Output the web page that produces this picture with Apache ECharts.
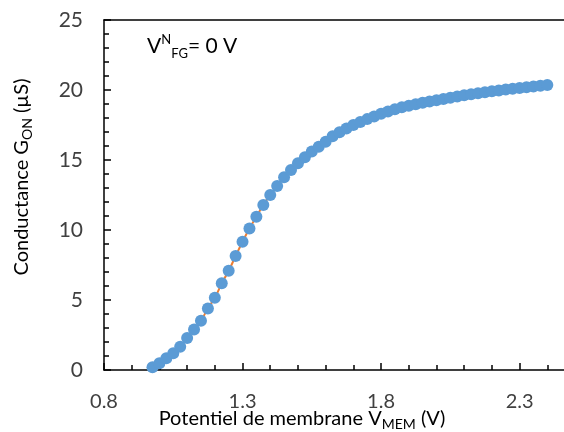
<!DOCTYPE html>
<html>
<head>
<meta charset="utf-8">
<script src="https://cdn.jsdelivr.net/npm/echarts@6/dist/echarts.min.js"></script>
<style>
html,body{margin:0;padding:0;background:#fff;}
#chart{width:564px;height:432px;}
</style>
</head>
<body>
<div id="chart"></div>
<script>
// Membrane potential V_MEM (V)
var vmem = [0.975,1.000,1.025,1.050,1.075,1.100,1.125,1.150,1.175,1.200,
  1.225,1.250,1.275,1.300,1.325,1.350,1.375,1.400,1.425,1.450,
  1.475,1.500,1.525,1.550,1.575,1.600,1.625,1.650,1.675,1.700,
  1.725,1.750,1.775,1.800,1.825,1.850,1.875,1.900,1.925,1.950,
  1.975,2.000,2.025,2.050,2.075,2.100,2.125,2.150,2.175,2.200,
  2.225,2.250,2.275,2.300,2.325,2.350,2.375,2.400];
// Conductance G_ON (µS)
var gon = [0.19,0.48,0.84,1.19,1.66,2.29,2.90,3.52,4.40,5.16,
  6.19,7.09,8.14,9.16,10.10,10.95,11.79,12.50,13.14,13.76,
  14.29,14.76,15.19,15.60,15.95,16.30,16.70,16.98,17.25,17.50,
  17.72,17.92,18.11,18.30,18.47,18.62,18.76,18.88,18.99,19.09,
  19.18,19.27,19.36,19.45,19.54,19.62,19.70,19.77,19.84,19.91,
  19.97,20.03,20.09,20.14,20.20,20.25,20.30,20.36];
var xMin = 0.8, xMax = 2.5, xInterval = 0.5;
var yMin = 0, yMax = 25, yInterval = 5;

var pts = vmem.map(function(v, i){ return [v, gon[i]]; });
var FONT = 'Lato';
var TXT = '#404040';

var chart = echarts.init(document.getElementById('chart'), null, {renderer:'canvas'});
chart.setOption({
  animation: false,
  backgroundColor: '#fff',
  grid: {left: 104, width: 471, top: 20, height: 350, containLabel: false, outerBoundsMode: 'none'},
  xAxis: [{
    type: 'value', min: xMin, max: xMax, interval: xInterval,
    axisLine: {show: true, onZero: false, lineStyle: {color: '#000', width: 1.5}},
    axisTick: {show: true, inside: true, length: 7, lineStyle: {color: '#000', width: 1.5}},
    minorTick: {show: true, splitNumber: 5, length: 5, lineStyle: {color: '#000', width: 1.5}},
    splitLine: {show: false},
    axisLabel: {margin: 22, color: TXT, fontFamily: FONT, fontSize: 20, showMaxLabel: false,
      formatter: function(v){ return v.toFixed(1); }}
  }, {
    type: 'value', position: 'top', min: xMin, max: xMax, interval: xInterval,
    axisLine: {show: true, onZero: false, lineStyle: {color: '#000', width: 1.5}},
    axisTick: {show: false}, axisLabel: {show: false}, splitLine: {show: false}
  }],
  yAxis: {
    type: 'value', min: yMin, max: yMax, interval: yInterval,
    axisLine: {show: true, lineStyle: {color: '#000', width: 1.5}},
    axisTick: {show: true, inside: true, length: 7, lineStyle: {color: '#000', width: 1.5}},
    minorTick: {show: true, splitNumber: 5, length: 5, lineStyle: {color: '#000', width: 1.5}},
    splitLine: {show: false},
    axisLabel: {margin: 21, color: TXT, fontFamily: FONT, fontSize: 21}
  },
  series: [{
    type: 'line', data: pts, smooth: true, showSymbol: false, symbol: 'none',
    lineStyle: {color: '#ED7D31', width: 2}, z: 2
  }, {
    type: 'scatter', data: pts, symbol: 'circle', symbolSize: 12,
    itemStyle: {color: '#5B9BD5', opacity: 1}, z: 3
  }],
  graphic: [{
    type: 'text', left: 147, top: 33,
    style: {
      text: '{m|V}{sup|N}{sub|FG}{m|= 0 V}',
      fill: '#000', fontFamily: FONT,
      rich: {
        m: {fontSize: 21, fontFamily: FONT, color: '#222', lineHeight: 27},
        sup: {fontSize: 13, fontFamily: FONT, color: '#222', verticalAlign: 'top', lineHeight: 14},
        sub: {fontSize: 13, fontFamily: FONT, color: '#222', verticalAlign: 'bottom', lineHeight: 14}
      }
    }
  }, {
    type: 'text', x: 302, y: 419,
    style: {
      text: '{m|Potentiel de membrane V}{sub|MEM}{m| (V)}',
      align: 'center', verticalAlign: 'middle', fontFamily: FONT,
      rich: {
        m: {fontSize: 20, fontFamily: FONT, color: TXT, lineHeight: 24},
        sub: {fontSize: 14, fontFamily: FONT, color: TXT, verticalAlign: 'bottom', lineHeight: 14}
      }
    }
  }, {
    type: 'text', x: 22, y: 177, rotation: Math.PI / 2,
    style: {
      text: '{m|Conductance G}{sub|ON}{m| (µS)}',
      align: 'center', verticalAlign: 'middle', fontFamily: FONT,
      rich: {
        m: {fontSize: 20, fontFamily: FONT, color: TXT, lineHeight: 24},
        sub: {fontSize: 14, fontFamily: FONT, color: TXT, verticalAlign: 'bottom', lineHeight: 14}
      }
    }
  }]
});
</script>
</body>
</html>
